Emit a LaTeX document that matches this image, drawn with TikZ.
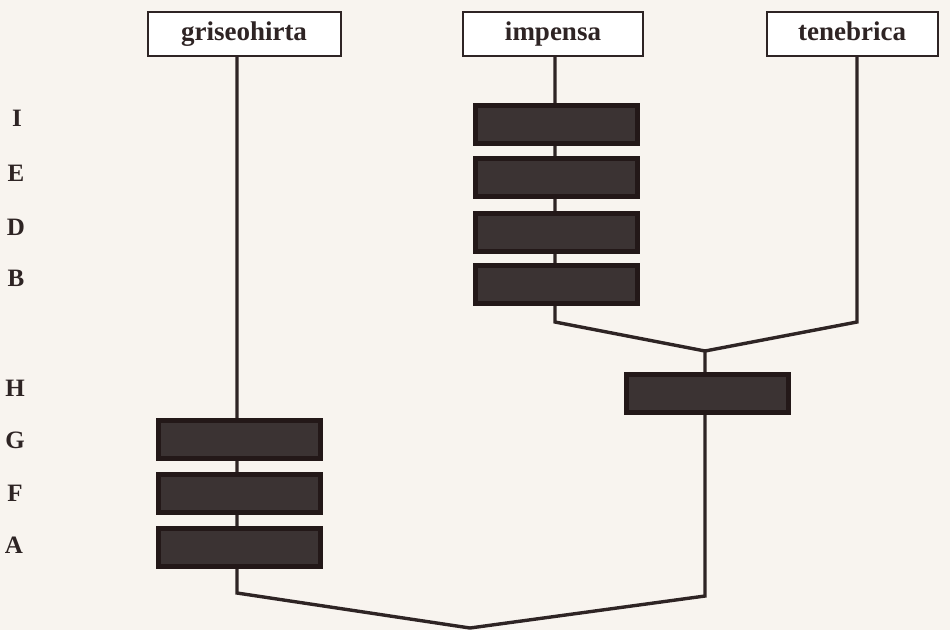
\documentclass[tikz,border=0pt]{standalone}
\usepackage{fontspec}
\setmainfont{Liberation Serif}
\definecolor{bg}{HTML}{F8F4EF}
\definecolor{ink}{HTML}{2E2424}
\definecolor{boxfill}{HTML}{3B3333}
\definecolor{boxedge}{HTML}{231818}
\begin{document}
\begin{tikzpicture}[x=1pt,y=-1pt,
  hdr/.style={draw=ink, line width=2pt, fill=white, rectangle, inner sep=0pt,
    text height=18pt, text depth=6pt,
    font=\fontsize{27}{30}\selectfont\bfseries, text=ink},
  darkbox/.style={draw=boxedge, line width=5pt, fill=boxfill, rectangle, inner sep=0pt,
    minimum width=162pt, minimum height=38pt},
  lbl/.style={font=\fontsize{25}{27}\selectfont\bfseries, text=ink, inner sep=0pt},
  link/.style={draw=ink, line width=3.4pt, line join=miter}]
\fill[bg] (0,0) rectangle (950,630);
\useasboundingbox (0,0) rectangle (950,630);
% header boxes
\node[hdr, minimum width=193pt, minimum height=44pt] (gris) at (244,34) {griseohirta};
\node[hdr, minimum width=180pt, minimum height=44pt] (imp) at (553,34) {impensa};
\node[hdr, minimum width=171pt, minimum height=44pt] (ten) at (852,34) {tenebrica};
% row labels
\node[lbl] (lI) at (17,118) {I};
\node[lbl] (lE) at (16,173) {E};
\node[lbl] (lD) at (16,227) {D};
\node[lbl] (lB) at (16,278) {B};
\node[lbl] (lH) at (15,388) {H};
\node[lbl] (lG) at (15,440) {G};
\node[lbl] (lF) at (15,493) {F};
\node[lbl] (lA) at (14,545) {A};
% coordinates
\coordinate (c1) at (555,322);
\coordinate (c2) at (857,322);
\coordinate (j1) at (705,351);
\coordinate (c3) at (237,593);
\coordinate (c4) at (705,596);
\coordinate (root) at (470,628);
% connectors (under boxes)
\draw[link] (gris.south -| c3) -- (c3) -- (root) -- (c4) -- (j1);
\draw[link] (imp.south -| c1) -- (c1) -- (j1) -- (c2) -- (ten.south -| c2);
% dark boxes
\node[darkbox] (I) at (556,124) {};
\node[darkbox] (E) at (556,177) {};
\node[darkbox] (D) at (556,232) {};
\node[darkbox] (B) at (556,284) {};
\node[darkbox] (H) at (707,393) {};
\node[darkbox] (G) at (239,439) {};
\node[darkbox] (F) at (239,493) {};
\node[darkbox] (A) at (239,547) {};
\end{tikzpicture}
\end{document}
